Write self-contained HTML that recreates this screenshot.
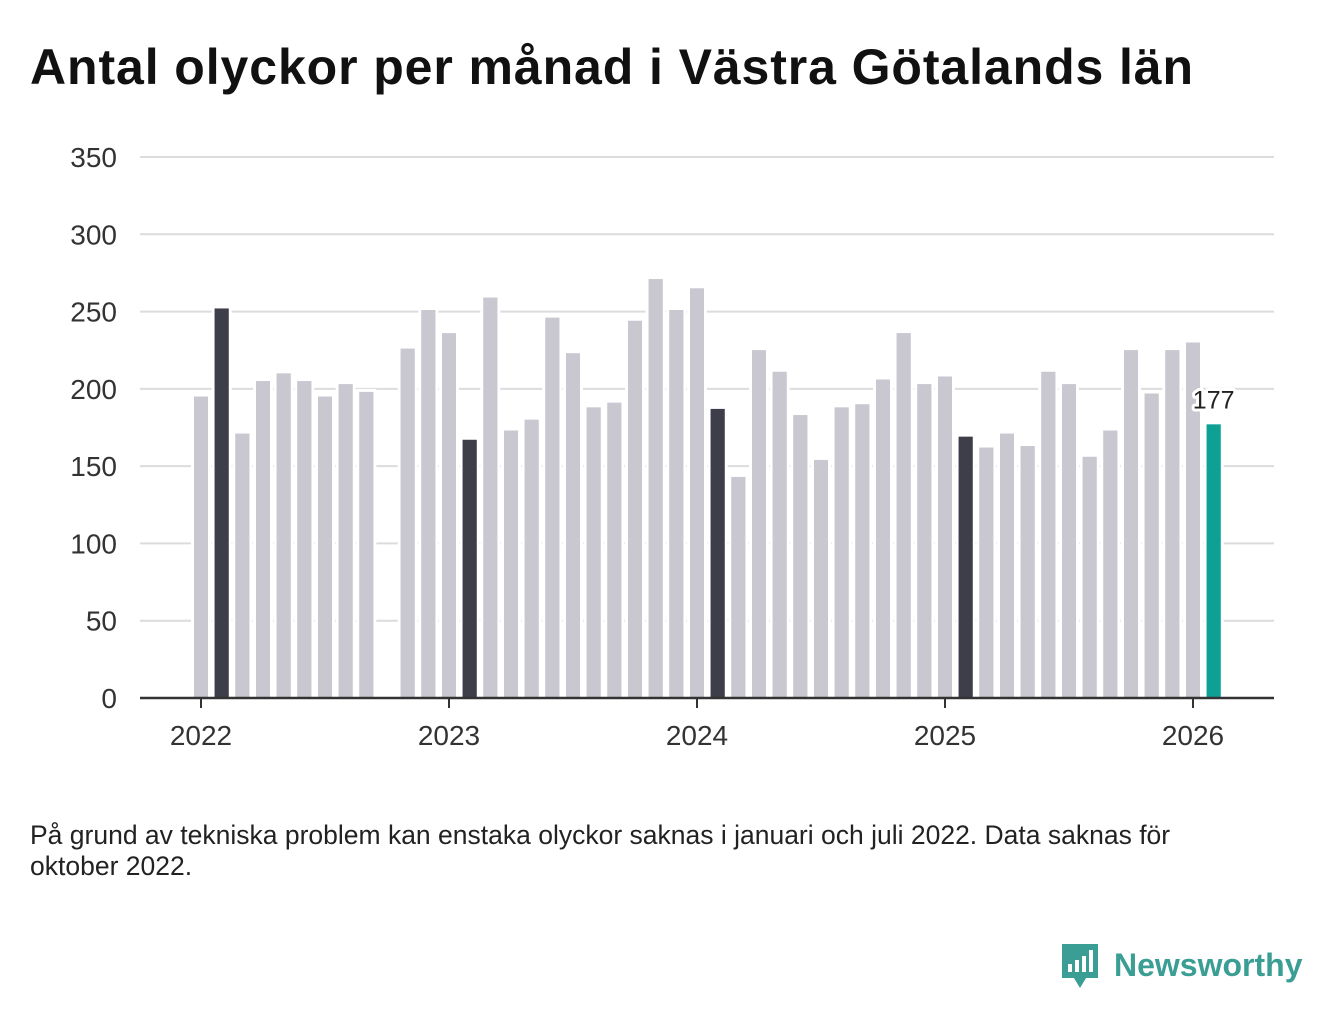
<!DOCTYPE html>
<html><head><meta charset="utf-8">
<style>
body{margin:0;background:#fff;width:1340px;height:1020px;overflow:hidden;font-family:"Liberation Sans",sans-serif;}
#title{position:absolute;left:30px;top:38px;font-size:50px;font-weight:bold;color:#111;letter-spacing:0.9px;margin:0;white-space:nowrap}
#note{position:absolute;left:30px;top:820px;width:1215px;font-size:26.5px;line-height:31px;color:#222}
#logo{position:absolute;left:1060px;top:940px;display:flex;align-items:center}
#logo span{font-size:32px;font-weight:bold;color:#3a9e94;margin-left:14px}
svg{position:absolute;left:0;top:0}
</style></head><body>
<h1 id="title">Antal olyckor per månad i Västra Götalands län</h1>
<svg id="chart" width="1340" height="800"></svg>
<div id="note">På grund av tekniska problem kan enstaka olyckor saknas i januari och juli 2022. Data saknas för oktober 2022.</div>
<div id="logo">
<svg width="40" height="50" viewBox="0 0 40 50" style="position:static">
<path d="M2 4h36v34H26l-6 10-6-10H2z" fill="#3a9e94"/>
<rect x="8" y="24" width="4" height="8" fill="#fff"/><rect x="15" y="20" width="4" height="12" fill="#fff"/><rect x="22" y="16" width="4" height="16" fill="#fff"/><rect x="29" y="10" width="4" height="22" fill="#fff"/>
</svg><span>Newsworthy</span></div>
<script>
const years=[2022,2023,2024,2025,2026];
const yTicks=[0,50,100,150,200,250,300,350];
const v2022=[195,252,171,205,210,205,195,203,198,null,226,251];
const v2023=[236,167,259,173,180,246,223,188,191,244,271,251];
const v2024=[265,187,143,225,211,183,154,188,190,206,236,203];
const v2025=[208,169,162,171,163,211,203,156,173,225,197,225];
const v2026=[230,177];
const values=[].concat(v2022,v2023,v2024,v2025,v2026);
const NS="http://www.w3.org/2000/svg";
const svg=document.getElementById('chart');
const x0=201,monthW=(449-201)/12,yBase=698,pxPer=(698-157)/350;
const xs=i=>x0+i*monthW, ys=v=>yBase-v*pxPer;
function el(t,a){const e=document.createElementNS(NS,t);for(const k in a)e.setAttribute(k,a[k]);svg.appendChild(e);return e;}
yTicks.forEach(t=>{
 if(t>0){const g=el('line',{x1:140,x2:1274,y1:ys(t),y2:ys(t),stroke:'#dcdcdf','stroke-width':2});
 
 }
 const l=el('text',{x:117,y:ys(t)+10,'text-anchor':'end','font-size':28,fill:'#333'});l.textContent=t;
 
 
});
values.forEach((v,i)=>{
 if(v==null)return;
 const last=i===values.length-1, feb=i%12===1;
 const r=el('rect',{x:xs(i)-7,y:ys(v),width:14,height:v*pxPer,fill:last?'#0fa095':feb?'#3e3d4a':'#c9c8d1',stroke:'#fff','stroke-width':6,'paint-order':'stroke'});
 
 
 el('rect',{x:xs(i)-7,y:ys(v),width:14,height:v*pxPer,fill:last?'#0fa095':feb?'#3e3d4a':'#c9c8d1'});
});
const ax=el('line',{x1:140,x2:1274,y1:yBase,y2:yBase,stroke:'#333','stroke-width':2.5});


years.forEach((y,k)=>{
 const x=xs(k*12);
 el('line',{x1:x,x2:x,y1:yBase,y2:yBase+10,stroke:'#333','stroke-width':2});
 const t=el('text',{x:x,y:745,'text-anchor':'middle','font-size':28,fill:'#333'});t.textContent=y;
 
 
});
const li=values.length-1;
const lab=el('text',{x:xs(li),y:ys(values[li])-16,'text-anchor':'middle','font-size':25,fill:'#222',stroke:'#fff','stroke-width':6,'paint-order':'stroke','stroke-linejoin':'round'});
lab.textContent=values[li];


</script>
</body></html>
